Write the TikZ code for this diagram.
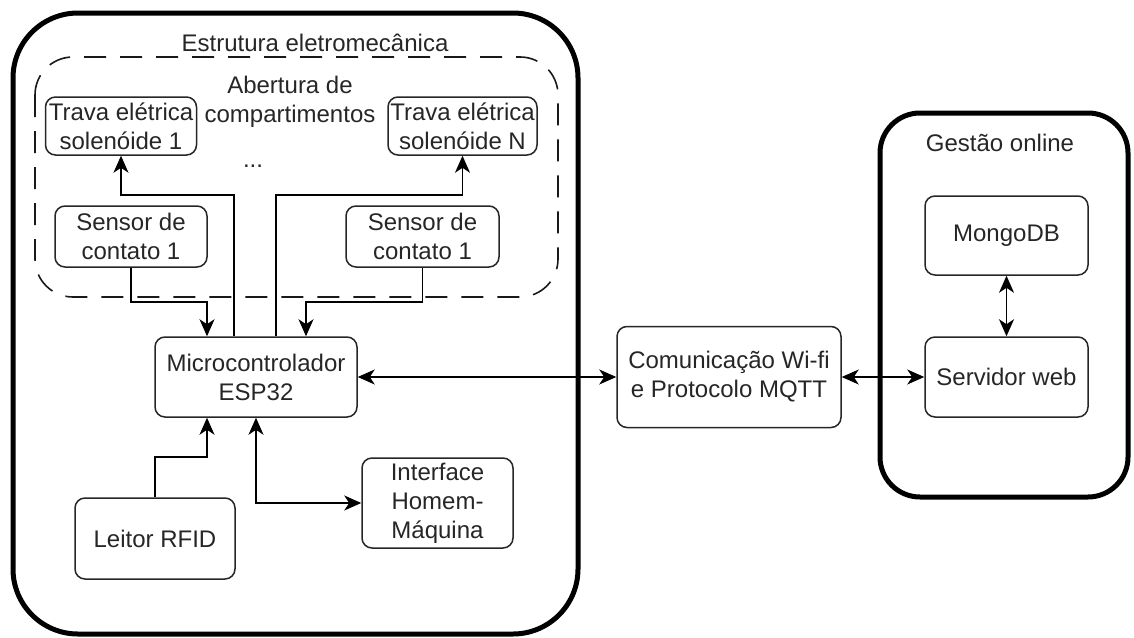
\documentclass[tikz,border=0pt]{standalone}
\usepackage{fontspec}
\setmainfont{Liberation Sans}
\usetikzlibrary{arrows.meta,calc}
\begin{document}
\begin{tikzpicture}[x=1pt,y=-1pt,
  box/.style={draw=black!85, line width=1.5pt, rounded corners=10pt, align=center, inner sep=0pt, text=black!85, font=\fontsize{24}{29}\selectfont},
  lbl/.style={align=center, inner sep=0pt, text=black!85, font=\fontsize{24}{29}\selectfont},
  frame/.style={draw=black, line width=5pt},
  tip/.tip={Stealth[length=17pt,width=15pt,inset=5pt]},
  arr/.style={line width=1.5pt, draw=black, -tip},
  darr/.style={line width=1.5pt, draw=black, tip-tip},
]
\useasboundingbox (0,0) rectangle (1134,637);

% frames
\draw[frame, rounded corners=65pt] (13,13) rectangle (578,634);
\draw[frame, rounded corners=40pt] (880,113) rectangle (1128,497);
\draw[line width=1.6pt, draw=black!90, dash pattern=on 22pt off 14pt, rounded corners=38pt] (35,57) rectangle (558,297);

% labels
\node[lbl] (estr) at (315,43) {Estrutura eletromecânica};
\node[lbl] (abert) at (290,102) {Abertura de\\compartimentos};
\node[lbl] (dots) at (253,166) {...};
\node[lbl] (gest) at (1000,143) {Gestão online};

% boxes
\node[box, minimum width=151pt, minimum height=58pt] (trava1) at (121,126) {Trava elétrica\\solenóide 1};
\node[box, minimum width=149pt, minimum height=58pt] (travaN) at (462.5,126) {Trava elétrica\\solenóide N};
\node[box, minimum width=152pt, minimum height=61pt] (sensL) at (131,236.5) {Sensor de\\contato 1};
\node[box, minimum width=153pt, minimum height=61pt] (sensR) at (422.5,236.5) {Sensor de\\contato 1};
\node[box, minimum width=202pt, minimum height=80pt] (micro) at (256,377) {Microcontrolador\\ESP32};
\node[box, minimum width=160pt, minimum height=81pt] (leitor) at (155,538.5) {Leitor RFID};
\node[box, minimum width=151pt, minimum height=90pt] (iface) at (437.5,503) {Interface\\Homem-\\Máquina};
\node[box, minimum width=224pt, minimum height=101pt] (comm) at (729,377) {Comunicação Wi-fi\\e Protocolo MQTT};
\node[box, minimum width=163pt, minimum height=79pt] (mongo) at (1006.5,235.5) {MongoDB};
\node[box, minimum width=163pt, minimum height=80pt] (serv) at (1006.5,377) {Servidor web};

% connectors
\draw[arr] (sensL.south) -- (131,302) -| ([xshift=-49pt]micro.north);
\draw[arr] (sensR.south) -- (422.5,302) -| ([xshift=50pt]micro.north);
\draw[arr] ([xshift=-22pt]micro.north) |- (121,195) -- (trava1.south);
\draw[arr] ([xshift=20pt]micro.north) |- (462.5,195) -- (travaN.south);
\draw[arr] (leitor.north) |- (207,457) -- ([xshift=-49pt]micro.south);
\draw[darr] (micro.south) |- (iface.west);
\draw[darr] (micro.east) -- (comm.west);
\draw[darr] (comm.east) -- (serv.west);
\draw[darr] (mongo.south) -- (serv.north);
\end{tikzpicture}
\end{document}
